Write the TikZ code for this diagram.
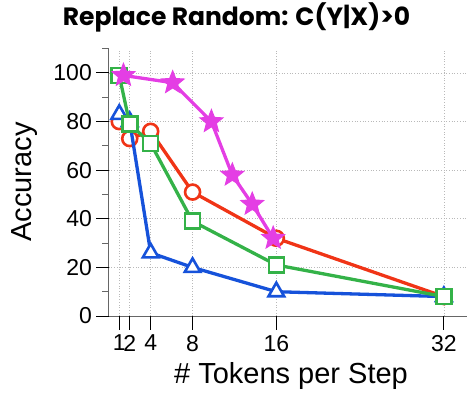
\documentclass[tikz,border=0pt]{standalone}
\usepackage{fontspec}
\setmainfont{Liberation Sans}
\newfontfamily\titlefont{Poppins}
\usetikzlibrary{shapes.geometric}

\definecolor{cblue}{RGB}{22,82,218}
\definecolor{cred}{RGB}{240,52,22}
\definecolor{cgreen}{RGB}{52,178,72}
\definecolor{cmag}{RGB}{228,62,228}

\begin{document}
\begin{tikzpicture}[x=10.47pt, y=2.43pt,
  series/.style={line width=3.3pt, line join=round},
  circ mark/.style={circle, draw=cred, fill=white, line width=2.6pt, minimum size=15pt, inner sep=0pt},
  tri mark/.style={regular polygon, regular polygon sides=3, draw=cblue, fill=white, line width=2.6pt, minimum size=18pt, inner sep=0pt},
  sq mark/.style={rectangle, draw=cgreen, fill=white, line width=2.6pt, minimum size=15pt, inner sep=0pt},
  star mark/.style={star, star points=5, star point ratio=2.3, draw=cmag, fill=cmag, line width=1pt, minimum size=24pt, inner sep=0pt},
  grid line/.style={gray!55, dotted, line width=0.7pt},
  tick label/.style={font=\fontsize{23}{23}\selectfont, inner sep=0pt}]
  \useasboundingbox (-10.39,-31.28) rectangle (34.21,130.04);

  % Gitter
  \foreach \xv in {1,2,4,8,16,32}
    \draw[grid line] (\xv,0) -- (\xv,110);
  \foreach \yv in {20,40,...,100}
    \draw[grid line] (0,\yv) -- (34.21,\yv);

  % Achsen
  \coordinate (O) at (0,0);
  \coordinate (ytop) at (0,110);
  \coordinate (xend) at (34.21,0);
  \draw[line width=1pt, gray!80!black] (ytop) -- (O) -- (xend);
  \foreach \yv in {0,20,...,100} {
    \draw[line width=1pt] (0,\yv) -- (-1.24,\yv);
    \node[tick label, anchor=east] (yl\yv) at (-1.6,\yv) {\yv};
  }
  \foreach \yv in {10,30,...,110}
    \draw[line width=1pt, gray!80!black] (0,\yv) -- (-0.62,\yv);
  \foreach \xv in {1,2,4,8,16,32} {
    \draw[line width=1pt] (\xv,0) -- (\xv,-5.8);
    \node[tick label, anchor=north] (xl\xv) at (\xv,-7.8) {\xv};
  }

  \node[font=\fontsize{29}{29}\selectfont] (xlab) at (17.4,-24.7) {\# Tokens per Step};
  \node[font=\fontsize{29}{29}\selectfont, rotate=90] (ylab) at (-8.0,55.1) {Accuracy};
  \node[font=\titlefont\bfseries\fontsize{25}{25}\selectfont] (title) at (12.2,123) {Replace Random: C(Y|X)>0};

  % Reihe rot
  \foreach \n/\xv/\yv in {1/1/80, 2/2/73, 3/4/76, 4/8/51, 5/16/32, 6/32/8}
    \coordinate (r\n) at (\xv,\yv);
  \draw[series, cred] (r1) -- (r2) -- (r3) -- (r4) -- (r5) -- (r6);
  \foreach \n in {1,...,6}
    \node[circ mark] (rm\n) at (r\n) {};

  % Reihe blau
  \foreach \n/\xv/\yv in {1/1/83, 2/2/80, 3/4/26, 4/8/20, 5/16/10, 6/32/8}
    \coordinate (b\n) at (\xv,\yv);
  \draw[series, cblue] (b1) -- (b2) -- (b3) -- (b4) -- (b5) -- (b6);
  \foreach \n in {1,...,6}
    \node[tri mark] (bm\n) at (b\n) {};

  % Reihe gruen
  \foreach \n/\xv/\yv in {1/1/99, 2/2/79, 3/4/71, 4/8/39, 5/16/21, 6/32/8}
    \coordinate (g\n) at (\xv,\yv);
  \draw[series, cgreen] (g1) -- (g2) -- (g3) -- (g4) -- (g5) -- (g6);
  \foreach \n in {1,...,6}
    \node[sq mark] (gm\n) at (g\n) {};

  % Reihe magenta
  \foreach \n/\xv/\yv in {1/1.4/99, 2/6.1/96, 3/9.8/80, 4/11.8/58, 5/13.7/46, 6/15.7/32}
    \coordinate (m\n) at (\xv,\yv);
  \draw[series, cmag] (m1) -- (m2) -- (m3) -- (m4) -- (m5) -- (m6);
  \foreach \n in {1,...,6}
    \node[star mark] (mm\n) at (m\n) {};
\end{tikzpicture}
\end{document}
